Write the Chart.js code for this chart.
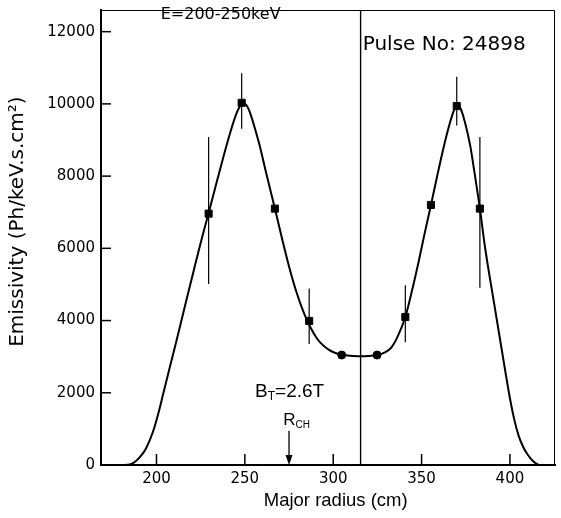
<!DOCTYPE html>
<html><head><meta charset="utf-8">
<script src="https://cdn.jsdelivr.net/npm/chart.js@4.4.0/dist/chart.umd.min.js"></script>
<style>html,body{margin:0;padding:0;background:#fff}#wrap{width:561px;height:518px}</style>
</head><body><div id="wrap"><canvas id="c" width="561" height="518"></canvas></div>
<script>
// fitted curve
const fitRadius = [176, 184, 187, 190.6, 194, 198, 201, 203.7, 207, 211, 216, 220, 224.4, 229.5, 234, 238, 242, 245, 247, 248.5, 250, 252, 254, 256.5, 258.2, 262, 267, 271, 275, 279, 283, 287, 291, 295, 299, 303, 308, 314, 320, 325, 329, 333, 336.5, 340.8, 344.6, 348.3, 351.5, 355.3, 358.6, 362.4, 365.5, 368, 370, 372, 374.5, 377.5, 380, 383, 385.9, 390.6, 395.3, 400, 402.5, 405, 407.5, 410, 413, 416, 418];
const fitEmissivity = [0, 5, 60, 220, 450, 920, 1420, 1950, 2600, 3380, 4380, 5170, 6040, 6980, 7820, 8560, 9250, 9700, 9920, 10030, 10010, 9870, 9600, 9180, 8880, 8100, 7100, 6280, 5500, 4820, 4260, 3820, 3490, 3280, 3150, 3075, 3035, 3015, 3020, 3045, 3110, 3260, 3560, 4100, 4830, 5620, 6360, 7200, 7950, 8780, 9380, 9780, 9950, 9880, 9500, 8850, 8080, 7100, 6030, 4609, 3212, 1850, 1250, 800, 500, 290, 110, 10, 0];
// measured points
const pointRadius = [229.5, 248.2, 267, 286.4, 304.8, 324.8, 340.8, 355.3, 369.9, 383];
const pointEmissivity = [6960, 10030, 7100, 3990, 3045, 3045, 4100, 7200, 9940, 7100];
const errHigh = [9080, 10850, null, 4890, null, null, 4980, null, 10750, 9080];
const errLow = [5010, 9310, null, 3350, null, null, 3400, null, 9405, 4910];
const pointShapes = ['rect','rect','rect','rect','circle','circle','rect','rect','rect','rect'];
const pointSizes = [5, 5, 5, 5, 4, 4, 5, 5, 5, 5];
// ticks
const xTicks = [200, 250, 300, 350, 400];
const yTicks = [0, 2000, 4000, 6000, 8000, 10000, 12000];
const chordRadius = 315.5;
const rchRadius = 275;

const overlay = {
  id: 'overlay',
  beforeDatasetsDraw(chart) {
    const {ctx, scales: {x, y}} = chart;
    ctx.save();
    ctx.strokeStyle = '#000';
    ctx.lineWidth = 1.2;
    pointRadius.forEach((r, i) => {
      if (errHigh[i] == null) return;
      const px = x.getPixelForValue(r);
      ctx.beginPath();
      ctx.moveTo(px, y.getPixelForValue(errHigh[i]));
      ctx.lineTo(px, y.getPixelForValue(errLow[i]));
      ctx.stroke();
    });
    ctx.restore();
  },
  afterDraw(chart) {
    const {ctx, chartArea: a, scales: {x, y}} = chart;
    ctx.save();
    ctx.strokeStyle = '#000';
    ctx.fillStyle = '#000';
    ctx.lineWidth = 1;
    ctx.beginPath();
    ctx.moveTo(a.left, a.top + 0.5);
    ctx.lineTo(a.right - 0.5, a.top + 0.5);
    ctx.lineTo(a.right - 0.5, a.bottom);
    ctx.stroke();
    ctx.lineWidth = 1.5;
    yTicks.forEach(v => {
      const py = y.getPixelForValue(v);
      ctx.beginPath(); ctx.moveTo(a.left, py); ctx.lineTo(a.left + 10, py); ctx.stroke();
    });
    xTicks.forEach(v => {
      const px = x.getPixelForValue(v);
      ctx.beginPath(); ctx.moveTo(px, a.bottom); ctx.lineTo(px, a.bottom - 11); ctx.stroke();
    });
    // vertical line
    const vx = x.getPixelForValue(chordRadius);
    ctx.lineWidth = 1.4;
    ctx.beginPath(); ctx.moveTo(vx, a.top); ctx.lineTo(vx, a.bottom); ctx.stroke();
    // arrow R_CH
    const ax = x.getPixelForValue(rchRadius);
    const ay = y.getPixelForValue(950);
    ctx.lineWidth = 1.3;
    ctx.beginPath(); ctx.moveTo(ax, ay); ctx.lineTo(ax, a.bottom - 8); ctx.stroke();
    ctx.beginPath(); ctx.moveTo(ax, a.bottom); ctx.lineTo(ax - 3.5, a.bottom - 10); ctx.lineTo(ax + 3.5, a.bottom - 10); ctx.closePath(); ctx.fill();
    // texts
    ctx.textBaseline = 'middle';
    ctx.textAlign = 'left';
    ctx.font = '16px "DejaVu Sans"';
    ctx.fillText('E=200-250keV', x.getPixelForValue(202.4), y.getPixelForValue(12470));
    ctx.font = '20px "DejaVu Sans"';
    ctx.fillText('Pulse No: 24898', x.getPixelForValue(316.7), y.getPixelForValue(11630));
    // B_T = 2.6T
    let bx = x.getPixelForValue(255.8), by = y.getPixelForValue(2030);
    ctx.font = '19px "Liberation Sans"';
    ctx.fillText('B', bx, by);
    bx += ctx.measureText('B').width;
    ctx.font = '12px "Liberation Sans"';
    ctx.fillText('T', bx, by + 5);
    bx += ctx.measureText('T').width;
    ctx.font = '19px "Liberation Sans"';
    ctx.fillText('=2.6T', bx, by);
    // R_CH
    let rx = x.getPixelForValue(271.7), ry = y.getPixelForValue(1246);
    ctx.font = '17px "Liberation Sans"';
    ctx.fillText('R', rx, ry);
    rx += ctx.measureText('R').width;
    ctx.font = '10px "Liberation Sans"';
    ctx.fillText('CH', rx, ry + 5);
    ctx.restore();
  }
};

new Chart(document.getElementById('c'), {
  type: 'scatter',
  data: {
    datasets: [
      {
        type: 'line',
        data: fitRadius.map((r, i) => ({x: r, y: fitEmissivity[i]})),
        borderColor: '#000',
        borderWidth: 2,
        pointRadius: 0,
        cubicInterpolationMode: 'monotone',
        fill: false
      },
      {
        type: 'scatter',
        data: pointRadius.map((r, i) => ({x: r, y: pointEmissivity[i]})),
        backgroundColor: '#000',
        borderColor: '#000',
        pointStyle: pointShapes,
        pointRadius: pointSizes,
        showLine: false
      }
    ]
  },
  options: {
    responsive: false,
    animation: false,
    devicePixelRatio: 1,
    layout: {padding: {top: 10, right: 4, left: 0, bottom: 0}},
    plugins: {legend: {display: false}, tooltip: {enabled: false}},
    scales: {
      x: {
        type: 'linear', min: 168.6, max: 425.5,
        afterBuildTicks: s => { s.ticks = xTicks.map(v => ({value: v})); },
        afterFit: s => { s.height = 53; s.paddingLeft = 0; s.paddingRight = 0; },
        grid: {drawOnChartArea: false, drawTicks: false},
        border: {display: true, color: '#000', width: 2},
        ticks: {color: '#000', font: {family: 'DejaVu Sans', size: 15}, padding: 5, callback: v => String(v)},
        title: {display: true, text: '   Major radius (cm)', color: '#000', font: {family: 'Liberation Sans', size: 18.5}, padding: {top: 0, bottom: 6}}
      },
      y: {
        type: 'linear', min: 0, max: 12600,
        afterBuildTicks: s => { s.ticks = yTicks.map(v => ({value: v})); },
        afterFit: s => { s.width = 101; s.paddingTop = 0; s.paddingBottom = 0; },
        grid: {drawOnChartArea: false, drawTicks: false},
        border: {display: true, color: '#000', width: 2},
        ticks: {color: '#000', font: {family: 'DejaVu Sans', size: 15}, padding: 6, callback: v => String(v)},
        title: {display: true, text: '     Emissivity (Ph/keV.s.cm²)', color: '#000', font: {family: 'DejaVu Sans', size: 20}, padding: {top: 6, bottom: 0}}
      }
    }
  },
  plugins: [overlay]
});
</script>
</body></html>
